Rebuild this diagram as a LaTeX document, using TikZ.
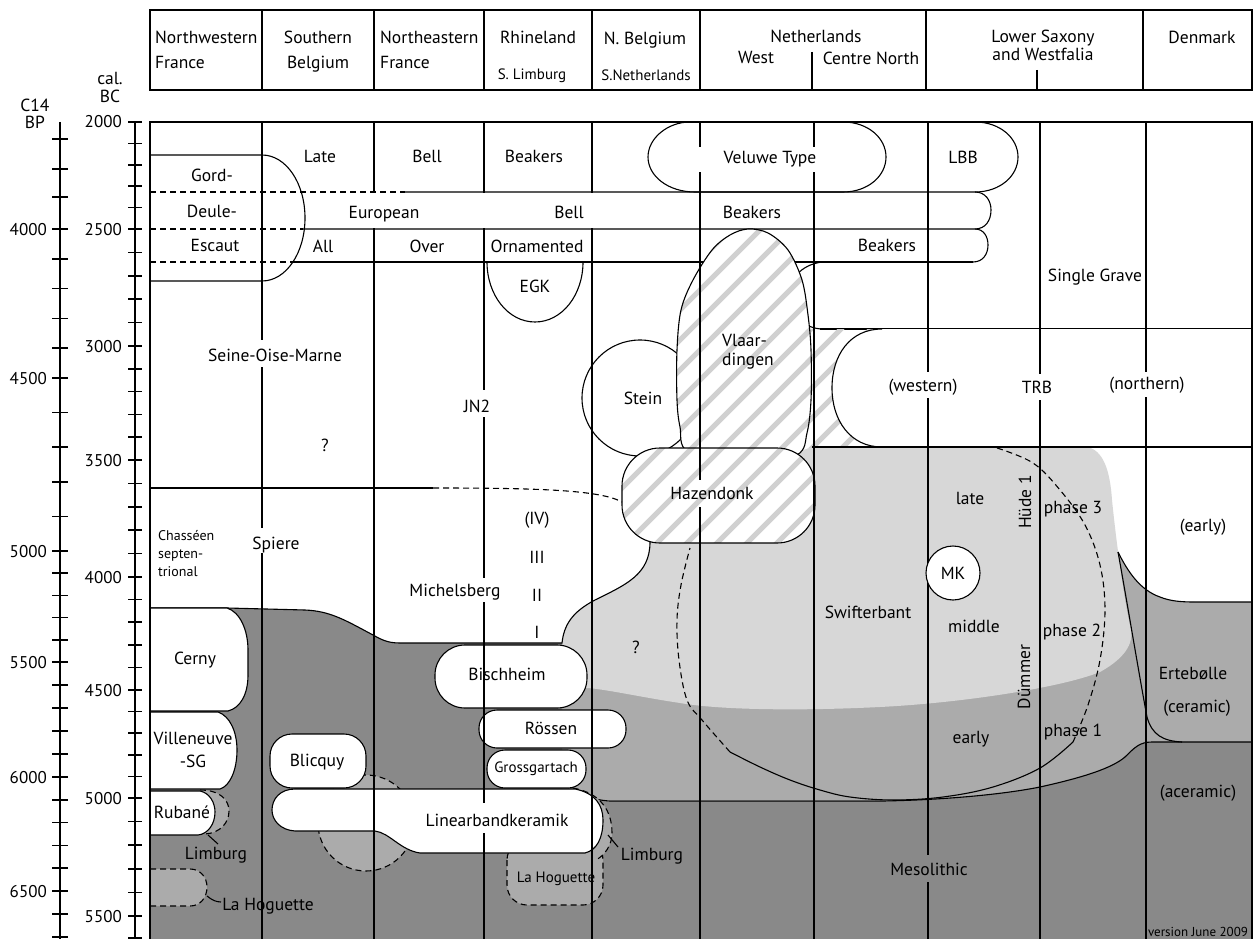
\documentclass[tikz,border=0pt]{standalone}
\usepackage{fontspec}
\setmainfont{PT Sans}
\definecolor{lightg}{HTML}{D7D7D7}
\definecolor{medg}{HTML}{ABABAB}
\definecolor{darkg}{HTML}{898989}
\definecolor{hatchc}{HTML}{D0D0D0}
\newcommand\fsz[1]{\fontsize{#1}{#1}\selectfont}
\tikzset{
  ln/.style={line width=1.1pt},
  heavy/.style={line width=2.2pt},
  axis/.style={line width=1.5pt},
  dsh/.style={line width=1.1pt, dash pattern=on 6pt off 4pt},
  lb/.style={font=\fsz{17.5}, inner sep=0pt, anchor=base},
  lbw/.style={font=\fsz{17.5}, inner sep=0pt, anchor=base west},
  lbs/.style={font=\fsz{15}, inner sep=0pt, anchor=base},
  lbx/.style={font=\fsz{14}, inner sep=0pt, anchor=base west},
  axl/.style={font=\fsz{17}, inner sep=0pt, anchor=base east},
  wshape/.style={fill=white, draw=black, line width=1.1pt},
  gshape/.style={fill=medg, draw=black, line width=1.1pt, dash pattern=on 6pt off 4pt},
  hatchline/.style={hatchc, line width=5pt},
}
\begin{document}
\begin{tikzpicture}[x=1pt,y=-1pt]
\useasboundingbox (0,0) rectangle (1253,939);
\fill[white] (0,0) rectangle (1253,939);

% ---------------- header ----------------
\draw[heavy] (150,10) rectangle (1252,90);
\foreach \x in {262,374,484,592,700,926,1143} \draw[ln] (\x,10) -- (\x,90);
\draw[ln] (812,52) -- (812,90);
\draw[ln] (1037,70) -- (1037,90);
\node[lbw] (h1a) at (155,44) {Northwestern};
\node[lbw] (h1b) at (155,69) {France};
\node[lb] (h2a) at (318,44) {Southern};
\node[lb] (h2b) at (318,69) {Belgium};
\node[lbw] (h3a) at (380,44) {Northeastern};
\node[lbw] (h3b) at (380,69) {France};
\node[lb] (h4a) at (538,44) {Rhineland};
\node[lbs] (h4b) at (532,80) {S. Limburg};
\node[lb] (h5a) at (645,45) {N. Belgium};
\node[lbs] (h5b) at (646,81) {S.Netherlands};
\node[lb] (h6a) at (816,43) {Netherlands};
\node[lb] (h6b) at (756,64) {West};
\node[lb] (h6c) at (871,65) {Centre North};
\node[lb] (h7a) at (1043,43) {Lower Saxony};
\node[lb] (h7b) at (1043,61) {and Westfalia};
\node[lb] (h8) at (1202,44) {Denmark};

% ---------------- axes ----------------
\node[lb] (cal) at (110,85) {cal.};
\node[lb] (bc) at (110,103) {BC};
\node[lb] (c14) at (35,112) {C14};
\node[lb] (bp) at (35,129) {BP};
\draw[axis] (60,122) -- (60,939);
\draw[axis] (135,122) -- (135,939);
\foreach \y in {139,169,197} \draw[axis] (52,\y) -- (68,\y);
\foreach \a/\b in {229/378,378/551,551/662,662/777,777/891}
  \foreach \i in {0,...,4} \draw[axis] (52,{\a+(\b-\a)*\i/5}) -- (68,{\a+(\b-\a)*\i/5});
\foreach \y in {891,914,937} \draw[axis] (52,\y) -- (68,\y);
\foreach \a/\b in {122/229,229/346,346/460,460/577,577/690,690/798,798/916}
  \foreach \i in {0,...,4} \draw[axis] (128,{\a+(\b-\a)*\i/5}) -- (142,{\a+(\b-\a)*\i/5});
\draw[axis] (128,916) -- (142,916) (128,938) -- (142,938);
\foreach \v/\y in {2000/122,2500/229,3000/346,3500/460,4000/577,4500/690,5000/798,5500/916}
  \node[axl] (cb\v) at (122,\y+6) {\v};
\foreach \v/\y in {4000/229,4500/378,5000/551,5500/662,6000/777,6500/891}
  \node[axl] (cp\v) at (47,\y+6) {\v};

% ---------------- grey areas ----------------
\fill[medg] (560,660) -- (1118,552) .. controls (1128,572) and (1140,590) .. (1160,597)
   .. controls (1170,601) and (1180,602) .. (1195,602) -- (1252,602) -- (1252,800) -- (560,800) -- cycle;
\fill[lightg] (562,643) .. controls (564,625) and (572,612) .. (595,600) .. controls (625,585) and (650,575) .. (650,542)
   -- (660,500) -- (812,447) -- (1087,447) .. controls (1103,450) and (1110,470) .. (1112,500)
   .. controls (1116,540) and (1124,600) .. (1131,630) .. controls (1134,648) and (1118,662) .. (1100,672)
   .. controls (1060,688) and (960,703) .. (880,707) .. controls (800,711) and (720,710) .. (680,703)
   .. controls (640,697) and (610,690) .. (588,688) -- (562,688) -- cycle;
\fill[darkg] (150,608) -- (227,608) -- (305,610) .. controls (330,611) and (345,620) .. (373,635)
   .. controls (382,640) and (388,643) .. (400,643) -- (562,643) -- (562,790) -- (573,789)
   .. controls (585,795) and (592,800) .. (610,801) -- (883,801) .. controls (940,800) and (1000,795) .. (1040,787)
   .. controls (1085,777) and (1112,768) .. (1125,757) .. controls (1135,747) and (1140,742) .. (1152,742)
   -- (1252,742) -- (1252,939) -- (150,939) -- cycle;

% boundary lines
\draw[ln] (150,608) -- (227,608) -- (305,610) .. controls (330,611) and (345,620) .. (373,635)
   .. controls (382,640) and (388,643) .. (400,643) -- (562,643)
   .. controls (564,625) and (572,612) .. (595,600) .. controls (625,585) and (650,575) .. (650,542);
\draw[ln] (573,789) .. controls (585,795) and (592,800) .. (610,801) -- (883,801) .. controls (940,800) and (1000,795) .. (1040,787)
   .. controls (1085,777) and (1112,768) .. (1125,757) .. controls (1135,747) and (1140,742) .. (1152,742) -- (1252,742);
\draw[ln] (1118,552) .. controls (1128,572) and (1140,590) .. (1160,597) .. controls (1170,601) and (1180,602) .. (1195,602) -- (1252,602);
\draw[ln] (1118,552) .. controls (1125,590) and (1140,680) .. (1147,717) .. controls (1152,735) and (1163,741) .. (1182,742);

% Duemmer / Huede loop
\draw[dsh] plot[smooth, tension=0.6] coordinates {(997,448) (1033,463) (1060,490) (1085,525) (1100,565) (1105,610) (1100,660) (1088,705) (1073,742)};
\draw[ln] plot[smooth, tension=0.6] coordinates {(1073,742) (1040,768) (993,787) (943,797) (893,800) (850,797) (820,790) (790,780) (760,767) (730,752)};
\draw[dsh] plot[smooth, tension=0.6] coordinates {(730,752) (702,720) (687,700) (679,660) (677,620) (681,585) (690,548)};

% ---------------- top bands ----------------
\draw[ln] (150,155) -- (262,155) .. controls (286,155) and (305,183) .. (305,218)
   .. controls (305,253) and (286,281) .. (262,281) -- (150,281);
\draw[dsh] (150,192) -- (405,192);
\draw[ln] (405,192) -- (975,192) .. controls (985,192) and (991,200) .. (991,210) .. controls (991,221) and (985,229) .. (975,229);
\draw[dsh] (150,229) -- (303,229);
\draw[ln] (303,229) -- (975,229) .. controls (984,229) and (988,237) .. (988,245) .. controls (988,254) and (983,262) .. (973,262);
\draw[dsh] (150,262) -- (293,262);
\draw[ln] (293,262) -- (973,262);
\draw[ln] (690,122) -- (843,122) .. controls (868,122) and (886,138) .. (886,157) .. controls (886,176) and (868,192) .. (843,192)
   -- (695,192) .. controls (668,192) and (648,176) .. (648,157) .. controls (648,138) and (668,122) .. (690,122);
\draw[ln] (975,122) .. controls (1000,122) and (1018,138) .. (1018,157) .. controls (1018,176) and (1000,192) .. (975,192);
\draw[ln] (487,262) .. controls (487,295) and (508,322) .. (535,322) .. controls (562,322) and (583,295) .. (583,262);
\draw[ln] (822,262) .. controls (800,265) and (789,280) .. (789,296) .. controls (789,315) and (805,329) .. (823,329);
\draw[ln] (820,329) -- (1252,329);

% ---------------- Stein, Vlaardingen, Hazendonk ----------------
\draw[wshape] (640,398) circle[radius=58];
\fill[white] plot[smooth cycle, tension=0.55] coordinates {(688,452) (680,427) (677,400) (677,350) (681,310) (693,280) (712,250) (730,235) (748,229) (768,233) (788,250) (802,280) (808,315) (811,350) (811,400) (807,433) (797,455) (745,470)};
\begin{scope}
\clip plot[smooth cycle, tension=0.55] coordinates {(688,452) (680,427) (677,400) (677,350) (681,310) (693,280) (712,250) (730,235) (748,229) (768,233) (788,250) (802,280) (808,315) (811,350) (811,400) (807,433) (797,455) (745,470)};
\foreach \k in {0,...,24} \draw[hatchline] ({140+30*\k},700) -- ({740+30*\k},100);
\end{scope}
\begin{scope}
\clip (805,329) rectangle (890,447);
\foreach \k in {0,...,24} \draw[hatchline] ({140+30*\k},700) -- ({740+30*\k},100);
\end{scope}
\draw[ln] plot[smooth cycle, tension=0.55] coordinates {(688,452) (680,427) (677,400) (677,350) (681,310) (693,280) (712,250) (730,235) (748,229) (768,233) (788,250) (802,280) (808,315) (811,350) (811,400) (807,433) (797,455) (745,470)};
\fill[white, rounded corners=38pt] (622,448) rectangle (815,543);
\begin{scope}
\clip[rounded corners=38pt] (622,448) rectangle (815,543);
\foreach \k in {0,...,24} \draw[hatchline] ({140+30*\k},700) -- ({740+30*\k},100);
\end{scope}
\draw[ln, rounded corners=38pt] (622,448) rectangle (815,543);

% TRB
\fill[white] (1252,329) -- (882,329) .. controls (850,329) and (832,355) .. (832,388) .. controls (832,420) and (850,447) .. (882,447) -- (1252,447) -- cycle;
\draw[ln] (882,329) .. controls (850,329) and (832,355) .. (832,388) .. controls (832,420) and (850,447) .. (882,447);
\draw[ln] (812,447) -- (1252,447);

% dashed JN2 boundary
\draw[ln] (150,488) -- (433,488);
\draw[dsh] (433,488) .. controls (540,488) and (600,490) .. (622,502);

% ---------------- lower left shapes ----------------
\draw[gshape] (200,790) .. controls (220,790) and (229,800) .. (229,811) .. controls (229,823) and (220,833) .. (205,834);
\draw[gshape] (150,869) -- (190,869) .. controls (200,869) and (207,877) .. (207,887) .. controls (207,898) and (200,906) .. (190,906) -- (150,906);
\draw[gshape] (366,823) circle[radius=48];
\draw[gshape, rounded corners=20pt] (507,840) rectangle (603,905);
\fill[medg] (573,788) .. controls (600,793) and (612,810) .. (612,833) .. controls (612,845) and (605,855) .. (596,860) -- (585,852) -- (598,820) -- (580,790) -- cycle;
\draw[dsh] (573,788) .. controls (600,793) and (612,810) .. (612,833) .. controls (612,845) and (605,855) .. (596,860);

\draw[wshape] (150,608) -- (227,608) .. controls (240,612) and (248,630) .. (248,650) -- (248,675) .. controls (248,695) and (240,708) .. (228,711) -- (150,711);
\draw[wshape] (150,712) -- (218,712) .. controls (230,716) and (237,732) .. (237,750) .. controls (237,770) and (230,786) .. (220,789) -- (150,789);
\draw[wshape] (150,791) -- (200,791) .. controls (210,793) and (215,803) .. (215,812) .. controls (215,824) and (208,834) .. (198,835) -- (150,835);
\draw[wshape, rounded corners=22pt] (270,734) rectangle (366,788);
\draw[wshape] (300,789) -- (575,789) .. controls (595,793) and (603,805) .. (603,820) .. controls (603,838) and (597,850) .. (585,853)
   -- (420,853) .. controls (400,850) and (390,833) .. (375,831) -- (295,831) .. controls (280,830) and (272,820) .. (272,810)
   .. controls (272,799) and (280,789) .. (295,789) -- cycle;
\draw[wshape, rounded corners=30pt] (435,645) rectangle (587,708);
\draw[wshape, rounded corners=18pt] (479,710) rectangle (626,748);
\draw[wshape, rounded corners=18pt] (487,750) rectangle (586,788);

% leaders
\draw[ln] (208,835) -- (218,844);
\draw[ln] (207,896) .. controls (212,900) and (216,902) .. (221,902);
\draw[ln] (608,835) -- (618,847);

% ---------------- frame and column lines ----------------
\draw[ln] (262,122) -- (262,340) (262,367) -- (262,528) (262,553) -- (262,939);
\draw[ln] (374,122) -- (374,193) (374,228) -- (374,939);
\draw[ln] (484,122) -- (484,193) (484,228) -- (484,390) (484,417) -- (484,578) (484,602) -- (484,803) (484,833) -- (484,939);
\draw[ln] (592,122) -- (592,193) (592,228) -- (592,939);
\draw[ln] (700,122) -- (700,147) (700,172) -- (700,480) (700,507) -- (700,939);
\draw[ln] (814,122) -- (814,147) (814,172) -- (814,939);
\draw[ln] (928,122) -- (928,372) (928,398) -- (928,855) (928,882) -- (928,939);
\draw[ln] (1040,122) -- (1040,374) (1040,400) -- (1040,939);
\draw[ln] (1146,122) -- (1146,372) (1146,397) -- (1146,939);
\draw[wshape] (953,573) circle[radius=27];
\draw[heavy] (150,939) -- (150,122) -- (1252,122) -- (1252,939);

% ---------------- labels ----------------
\node[lb] (t1) at (212,181) {Gord-};
\node[lb] (t2) at (212,217) {Deule-};
\node[lb] (t3) at (215,251) {Escaut};
\node[lb] (t4) at (320,163) {Late};
\node[lb] (t5) at (427,163) {Bell};
\node[lb] (t6) at (534,163) {Beakers};
\node[lb] (t7) at (384,218) {European};
\node[lb] (t8) at (569,218) {Bell};
\node[lb] (t9) at (752,218) {Beakers};
\node[lb] (t10) at (323,252) {All};
\node[lb] (t11) at (427,252) {Over};
\node[lb] (t12) at (537,252) {Ornamented};
\node[lb] (t13) at (887,251) {Beakers};
\node[lb] (t14) at (770,164) {Veluwe Type};
\node[lb] (t15) at (963,164) {LBB};
\node[lb] (t16) at (535,292) {EGK};
\node[lb] (t17) at (1095,281) {Single Grave};
\node[lb] (t18) at (275,361) {Seine-Oise-Marne};
\node[lb] (t19) at (325,451) {?};
\node[lb] (t20) at (477,412) {JN2};
\node[lb] (t21) at (643,404) {Stein};
\node[lbw] (t22) at (722,346) {Vlaar-};
\node[lbw] (t23) at (722,365) {dingen};
\node[lb] (t24) at (923,391) {(western)};
\node[lb] (t25) at (1037,393) {TRB};
\node[lb] (t26) at (1147,389) {(northern)};
\node[lb] (t27) at (712,499) {Hazendonk};
\node[lb] (t28) at (970,504) {late};
\node[font=\fsz{17.5}, inner sep=0pt, rotate=90] (t29) at (1025,502) {Hüde 1};
\node[lb] (t30) at (1073,513) {phase 3};
\node[lb] (t31) at (1203,531) {(early)};
\node[lbx] (t32) at (158,540) {Chasséen};
\node[lbx] (t33) at (158,558) {septen-};
\node[lbx] (t34) at (158,576) {trional};
\node[lb] (t35) at (276,549) {Spiere};
\node[lb] (t36) at (537,524) {(IV)};
\node[lb] (t37) at (537,563) {III};
\node[lb] (t38) at (537,601) {II};
\node[lb] (t39) at (537,638) {I};
\node[lb] (t40) at (455,596) {Michelsberg};
\node[lb] (t41) at (953,579) {MK};
\node[lb] (t42) at (868,618) {Swifterbant};
\node[lb] (t43) at (974,632) {middle};
\node[lb] (t44) at (1072,636) {phase 2};
\node[lb] (t45) at (636,653) {?};
\node[lb] (t46) at (195,664) {Cerny};
\node[lb] (t47) at (507,680) {Bischheim};
\node[font=\fsz{17.5}, inner sep=0pt, rotate=90] (t48) at (1024,677) {Dümmer};
\node[lb] (t49) at (1193,679) {Ertebølle};
\node[lb] (t50) at (1197,712) {(ceramic)};
\node[lb] (t51) at (551,734) {Rössen};
\node[lb] (t52) at (971,743) {early};
\node[lb] (t53) at (1073,736) {phase 1};
\node[lb] (t54) at (193,744) {Villeneuve};
\node[lb] (t55) at (193,767) {-SG};
\node[lb] (t56) at (317,766) {Blicquy};
\node[lbs] (t57) at (536,772) {Grossgartach};
\node[lb] (t58) at (1198,797) {(aceramic)};
\node[lb] (t59) at (182,818) {Rubané};
\node[lb] (t60) at (497,826) {Linearbandkeramik};
\node[lb] (t61) at (216,859) {Limburg};
\node[lb] (t62) at (652,860) {Limburg};
\node[lb] (t63) at (929,875) {Mesolithic};
\node[lbs] (t64) at (556,882) {La Hoguette};
\node[lb] (t65) at (268,910) {La Hoguette};
\node[font=\fsz{13}, inner sep=0pt, anchor=base] (t66) at (1198,936) {version June 2009};
\end{tikzpicture}
\end{document}
